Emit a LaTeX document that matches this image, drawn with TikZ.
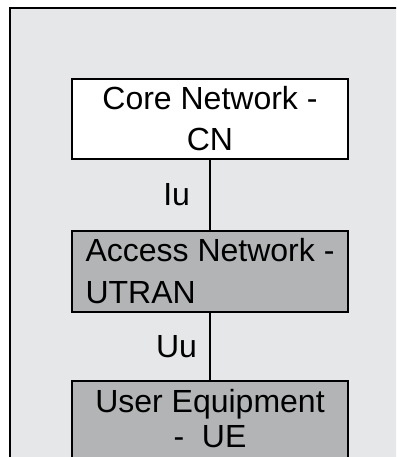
\documentclass[tikz,border=0pt]{standalone}
\usepackage{fontspec}
\setmainfont{Liberation Sans}
\usetikzlibrary{positioning}
\usepackage{xcolor}
\definecolor{panelgray}{RGB}{230,231,232}
\definecolor{boxgray}{RGB}{178,180,182}

\begin{document}
\begin{tikzpicture}[x=1pt,y=1pt,
        layerbox/.style={draw,line width=2pt,minimum width=276pt,minimum height=80pt,
            inner xsep=4pt,inner ysep=0pt},
        link/.style={line width=2pt},
        iflabel/.style={inner sep=0pt,midway}]
        \useasboundingbox (0,0) rectangle (396,-457);
        \clip (0,0) rectangle (396,-457);
        \fontsize{32}{41}\selectfont
        % Draw panel background
        \draw[fill=panelgray,line width=2.5pt] (9.75,-8) rectangle (430,-490);
        % Draw the three layers
        \node[layerbox,fill=white,align=center] (core) at (210,-119) {Core Network -\\CN};
        \node[layerbox,fill=boxgray,align=left,minimum height=81pt,below=70pt of core] (utran)
            {Access Network -\\[1pt]UTRAN};
        \node[layerbox,fill=boxgray,align=center,minimum height=83pt,below=67pt of utran] (ue)
            {User Equipment\\[-6pt]-\ \ UE\rule[-9pt]{0pt}{9pt}};
        % Draw interfaces
        \draw[link] (core) -- (utran) node[iflabel,left=19pt] {Iu};
        \draw[link] (utran) -- (ue) node[iflabel,left=12pt] {Uu};
    \end{tikzpicture}
\end{document}
